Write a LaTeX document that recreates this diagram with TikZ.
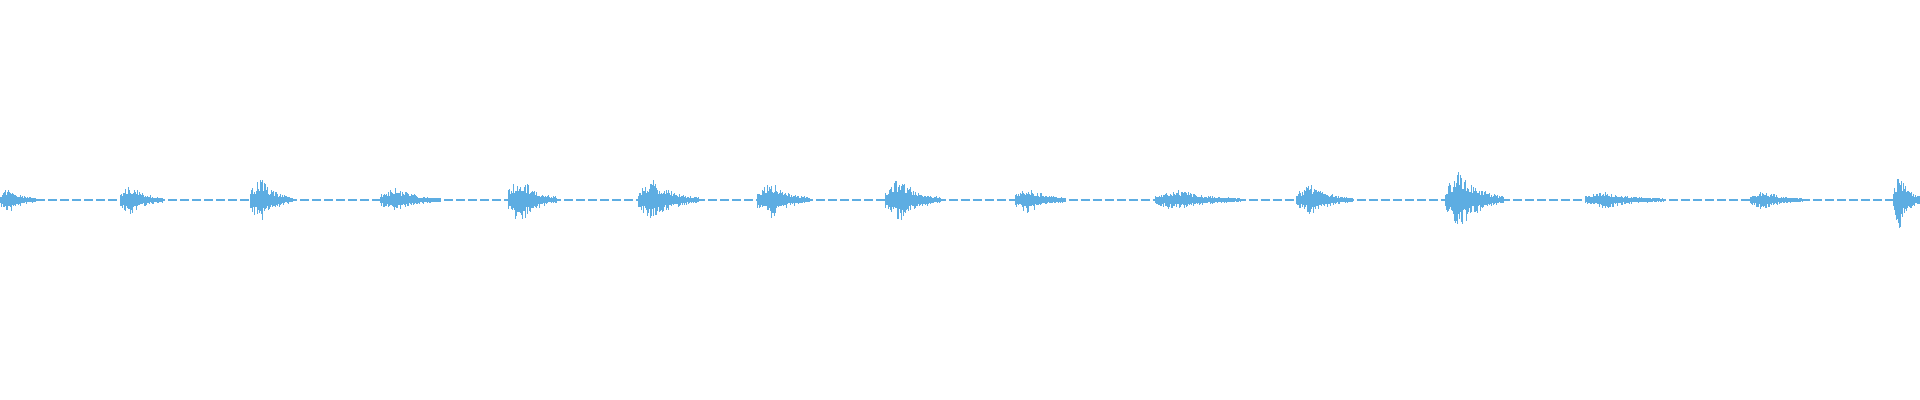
\documentclass[tikz,border=0pt]{standalone}
\usepackage{xcolor}
\definecolor{wave}{HTML}{5DADE2}

\begin{document}
\begin{tikzpicture}[x=0.01cm,y=0.01cm]
  \useasboundingbox (0,0) rectangle (1920,400);
  \pgfmathsetseed{42}
  % quiet line between bursts
  \draw[wave, line width=0.012cm, dash pattern=on 0.09cm off 0.03cm] (0,200) -- (1920,200);
  % bursts: start/length/peak
  \foreach \s/\l/\a in {0/36/13, 120/42/15, 250/42/22, 380/60/12, 508/48/24,
                        638/60/20, 757/52/19, 885/55/22, 1015/50/13, 1155/85/10,
                        1296/56/15, 1445/58/29, 1585/78/8, 1750/52/9, 1893/27/29} {
   \foreach \i in {0,...,\l} {
    \pgfmathsetmacro\t{\i/\l}
    \pgfmathsetmacro\env{(\t<0.25)*(0.4+2.4*\t)+(\t>=0.25)*exp(-3*(\t-0.25))}
    \pgfmathsetmacro\up{\a*\env*(0.35+0.65*rnd^1.5)+1}
    \pgfmathsetmacro\dn{\a*\env*(0.35+0.65*rnd^1.5)+1}
    \fill[wave] (\s+\i,200-\dn) rectangle (\s+\i+1.2,200+\up);
   };
  };
\end{tikzpicture}
\end{document}
